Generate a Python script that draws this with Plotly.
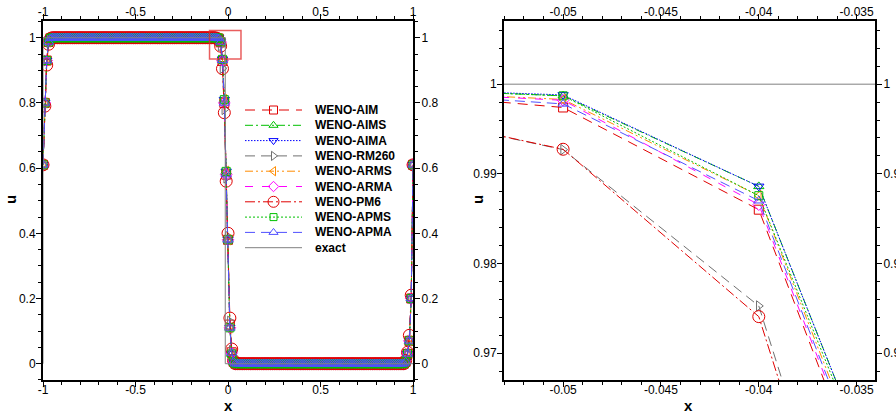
import numpy as np
import plotly.graph_objects as go

# ---- schemes and styles -------------------------------------------------
schemes = ["WENO-AIM", "WENO-AIMS", "WENO-AIMA", "WENO-RM260", "WENO-ARMS",
           "WENO-ARMA", "WENO-PM6", "WENO-APMS", "WENO-APMA"]
colors = ["#e00000", "#00c000", "#0000ff", "#707070", "#ff8c00",
          "#ff00ff", "#e00000", "#00c000", "#5050ff"]
dashes = ["10px,7px", "8px,3px,2px,3px", "1.5px,1.5px", "10px,6px",
          "8px,3px,2px,3px,2px,3px", "8px,9px", "10px,3px,2px,3px",
          "2px,2px", "10px,6px"]
symbols = ["square-open", "triangle-up-open", "triangle-down-open",
           "triangle-right-open", "triangle-left-open", "diamond-open",
           "circle-open", "square-open", "triangle-up-open"]
msizes = [9, 9, 9, 9, 9, 9, 12, 8, 9]

# ---- solution values on the grid (dx = 0.01) ----------------------------
# plateau levels of the square wave
u_high = 1.0
u_low = 0.0

# falling edge near x = 0
x_fall = [-0.06, -0.05, -0.04, -0.03, -0.02, -0.01, 0.00, 0.01, 0.02, 0.03]
aim_fall = [0.99927, 0.9974, 0.9860, 0.9289, 0.80, 0.58, 0.38, 0.12, 0.035, 0.006]
aims_fall = [0.99957, 0.9987, 0.9886, 0.9336, 0.81, 0.59, 0.38, 0.11, 0.030, 0.005]
aima_fall = [0.99957, 0.9988, 0.9886, 0.9336, 0.81, 0.59, 0.38, 0.11, 0.030, 0.005]
rm260_fall = [0.9974, 0.9927, 0.97526, 0.906, 0.78, 0.57, 0.39, 0.13, 0.040, 0.008]
arms_fall = [0.9993, 0.9983, 0.98756, 0.9315, 0.81, 0.59, 0.38, 0.11, 0.032, 0.005]
arma_fall = [0.9993, 0.9982, 0.98656, 0.9299, 0.80, 0.58, 0.38, 0.11, 0.033, 0.006]
pm6_fall = [0.99741, 0.99274, 0.97407, 0.905, 0.77, 0.56, 0.40, 0.14, 0.045, 0.010]
apms_fall = [0.99957, 0.9987, 0.98756, 0.9336, 0.81, 0.59, 0.38, 0.11, 0.030, 0.005]
apma_fall = [0.9992, 0.9978, 0.9870, 0.9307, 0.80, 0.58, 0.38, 0.11, 0.033, 0.006]

# rising edge across the periodic boundary x = +/-1
x_rise = [0.96, 0.97, 0.98, 0.99, 1.00, -1.00, -0.99, -0.98, -0.97, -0.96]
u_rise = [0.006, 0.03, 0.07, 0.20, 0.61, 0.61, 0.80, 0.93, 0.987, 0.998]
pm6_rise = [0.010, 0.035, 0.087, 0.21, 0.61, 0.61, 0.79, 0.916, 0.980, 0.997]

fall_sets = [aim_fall, aims_fall, aima_fall, rm260_fall, arms_fall,
             arma_fall, pm6_fall, apms_fall, apma_fall]

# exact square wave
x_exact = [-1.0, -1.0, -0.015, -0.015, 1.0]
u_exact = [0.0, 1.0, 1.0, 0.0, 0.0]

# ---- axis ticks ---------------------------------------------------------
xl_ticks = [-1, -0.5, 0, 0.5, 1]
xl_text = ["-1", "-0.5", "0", "0.5", "1"]
yl_ticks = [0, 0.2, 0.4, 0.6, 0.8, 1]
yl_text = ["0", "0.2", "0.4", "0.6", "0.8", "1"]
xr_ticks = [-0.05, -0.045, -0.04, -0.035]
xr_text = ["-0.05", "-0.045", "-0.04", "-0.035"]
yr_ticks = [0.97, 0.98, 0.99, 1.0]
yr_text = ["0.97", "0.98", "0.99", "1"]

grid = np.round(np.arange(-100, 101) * 0.01, 2)


def profile(fall, rise):
    u = np.where(grid < -0.001, u_high, u_low).astype(float)
    for xv, uv in zip(x_fall, fall):
        u[np.argmin(np.abs(grid - xv))] = uv
    for xv, uv in zip(x_rise, rise):
        u[np.argmin(np.abs(grid - xv))] = uv
    return u


fig = go.Figure()

for i, name in enumerate(schemes):
    rise = pm6_rise if name == "WENO-PM6" else u_rise
    u = profile(fall_sets[i], rise)
    line = dict(color=colors[i], width=1, dash=dashes[i])
    marker = dict(symbol=symbols[i], size=msizes[i], color=colors[i],
                  line=dict(color=colors[i], width=1))
    for xa, ya in [("x", "y"), ("x2", "y2")]:
        fig.add_trace(go.Scatter(x=grid, y=u, mode="lines+markers", name=name,
                                 line=line, marker=marker, xaxis=xa, yaxis=ya,
                                 showlegend=False))

# exact solution, drawn on the overlay axes so they carry the top/right ticks
exact_line = dict(color="#808080", width=1)
for xa, ya in [("x3", "y3"), ("x4", "y4")]:
    fig.add_trace(go.Scatter(x=x_exact, y=u_exact, mode="lines", name="exact",
                             line=exact_line, xaxis=xa, yaxis=ya,
                             showlegend=False))

# ---- legend block (own invisible axes) -----------------------------------
legend_names = schemes + ["exact"]
legend_rows = list(range(len(legend_names)))
for i, name in enumerate(legend_names):
    if name == "exact":
        fig.add_trace(go.Scatter(x=[0, 1], y=[i, i], mode="lines",
                                 line=exact_line, xaxis="x5", yaxis="y5",
                                 showlegend=False, hoverinfo="skip"))
    else:
        fig.add_trace(go.Scatter(x=[0, 1], y=[i, i], mode="lines",
                                 line=dict(color=colors[i], width=1, dash=dashes[i]),
                                 xaxis="x5", yaxis="y5", showlegend=False,
                                 hoverinfo="skip"))
        fig.add_trace(go.Scatter(x=[0.5], y=[i], mode="markers",
                                 marker=dict(symbol=symbols[i],
                                             size=msizes[i] - 1,
                                             color=colors[i],
                                             line=dict(color=colors[i], width=1)),
                                 xaxis="x5", yaxis="y5", showlegend=False,
                                 hoverinfo="skip"))

tickfont = dict(family="Liberation Sans, Arial", size=12, color="black")
ax_common = dict(showgrid=False, zeroline=False, showline=True, linewidth=2,
                 linecolor="black", ticks="outside", ticklen=5, tickwidth=1,
                 tickcolor="black", tickfont=tickfont, automargin=False)

dom_l = [0.048, 0.461]
dom_r = [0.5625, 0.9766]
dom_y = [0.0777, 0.948]
xl_range = [-1, 1]
yl_range = [-0.05, 1.05]
xr_range = [-0.05302, -0.03406]
yr_range = [0.967, 1.007]

minor_xl = dict(dtick=0.1, ticks="outside", ticklen=3, tickcolor="black")
minor_yl = dict(dtick=0.05, ticks="outside", ticklen=3, tickcolor="black")
minor_xr = dict(dtick=0.001, ticks="outside", ticklen=3, tickcolor="black")
minor_yr = dict(dtick=0.002, ticks="outside", ticklen=3, tickcolor="black")

hidden = dict(visible=False, showgrid=False, zeroline=False)

fig.update_layout(
    width=896, height=412,
    margin=dict(l=0, r=0, t=0, b=0, autoexpand=False),
    paper_bgcolor="white", plot_bgcolor="white",
    showlegend=False,
    xaxis=dict(ax_common, domain=dom_l, range=xl_range, anchor="y",
               tickvals=xl_ticks, ticktext=xl_text, minor=minor_xl,
               ticklabelstandoff=-7),
    yaxis=dict(ax_common, domain=dom_y, range=yl_range, anchor="x",
               tickvals=yl_ticks, ticktext=yl_text, minor=minor_yl,
               ticklabelstandoff=-2),
    xaxis3=dict(ax_common, overlaying="x", side="top", range=xl_range,
                anchor="y3", tickvals=xl_ticks, ticktext=xl_text,
                minor=minor_xl, ticklabelstandoff=-6),
    yaxis3=dict(ax_common, overlaying="y", side="right", range=yl_range,
                anchor="x3", tickvals=yl_ticks, ticktext=yl_text,
                minor=minor_yl, ticklabelstandoff=-1),
    xaxis2=dict(ax_common, domain=dom_r, range=xr_range, anchor="y2",
                tickvals=xr_ticks, ticktext=xr_text, minor=minor_xr,
                ticklabelstandoff=-7),
    yaxis2=dict(ax_common, domain=dom_y, range=yr_range, anchor="x2",
                tickvals=yr_ticks, ticktext=yr_text, minor=minor_yr,
                ticklabelstandoff=-2),
    xaxis4=dict(ax_common, overlaying="x2", side="top", range=xr_range,
                anchor="y4", tickvals=xr_ticks, ticktext=xr_text,
                minor=minor_xr, ticklabelstandoff=-6),
    yaxis4=dict(ax_common, overlaying="y2", side="right", range=yr_range,
                anchor="x4", tickvals=yr_ticks, ticktext=yr_text,
                minor=minor_yr, ticklabelstandoff=-1),
    xaxis5=dict(hidden, domain=[245 / 896, 302 / 896], range=[0, 1],
                anchor="y5"),
    yaxis5=dict(hidden, domain=[1 - 255.35 / 412, 1 - 102.35 / 412],
                range=[9.5, -0.5], anchor="x5"),
)

# legend labels
legend_font = dict(family="Liberation Sans, Arial", size=12, color="black",
                   weight="bold")
for i, name in zip(legend_rows, legend_names):
    fig.add_annotation(x=313 / 896, y=i, xref="paper", yref="y5", text=name,
                       showarrow=False, font=legend_font, xanchor="left",
                       yanchor="middle")

# axis titles
title_font = dict(family="Liberation Sans, Arial", size=15, color="black",
                  weight="bold")
for xp, yp, txt, ang in [(228, 405, "x", 0), (10, 200, "u", -90),
                         (688, 405, "x", 0), (477, 200, "u", -90)]:
    fig.add_annotation(x=xp / 896, y=1 - yp / 412, xref="paper", yref="paper",
                       text=txt, showarrow=False, font=title_font,
                       textangle=ang, xanchor="center", yanchor="middle")

# zoom-window marker on the left panel
fig.add_shape(type="rect", xref="x", yref="y", x0=-0.1, x1=0.07, y0=0.935,
              y1=1.022, line=dict(color="rgba(225,40,40,0.75)", width=1.5))

fig.write_html("out.html")
